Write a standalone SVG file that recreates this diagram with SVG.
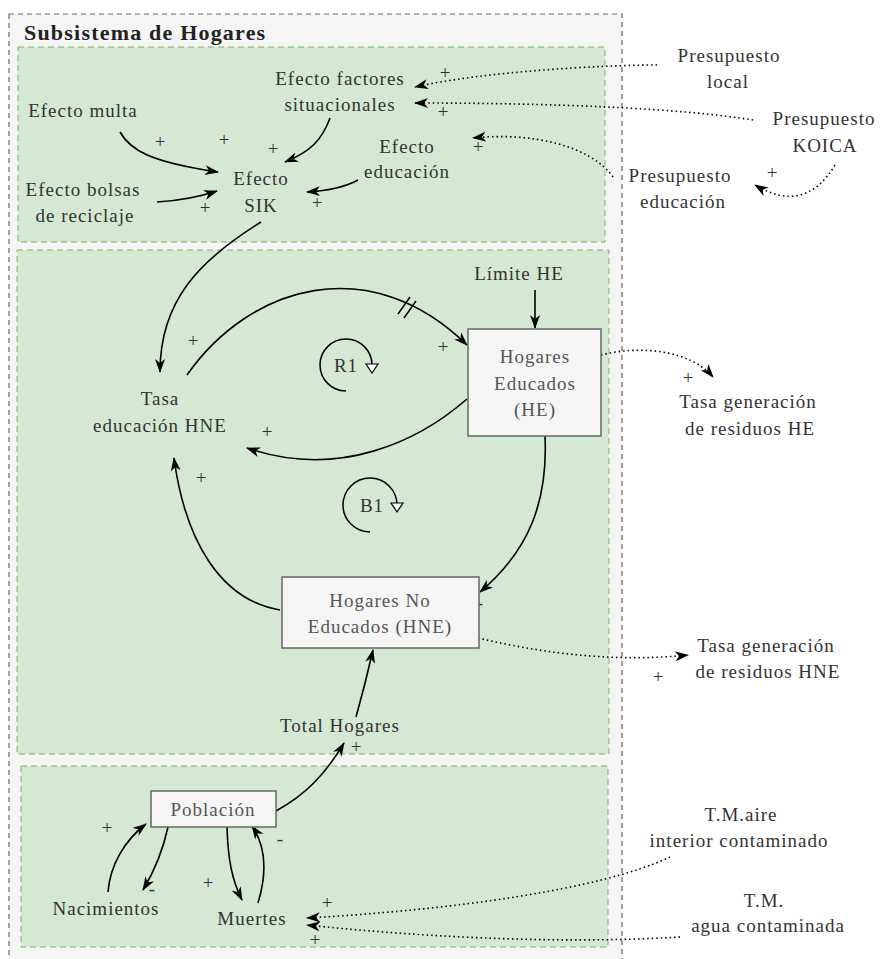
<svg xmlns="http://www.w3.org/2000/svg" width="881" height="959" viewBox="0 0 881 959">
<style>
.t{font-family:"Liberation Serif","DejaVu Serif",serif;font-size:19px;fill:#333;text-anchor:middle;letter-spacing:1px}
.bt{fill:#555}
.title{font-family:"Liberation Serif","DejaVu Serif",serif;font-size:22px;font-weight:bold;fill:#222;letter-spacing:1.2px}
.pm{font-family:"Liberation Serif","DejaVu Serif",serif;font-size:19px;fill:#333;text-anchor:middle}
.c{fill:none;stroke:#000;stroke-width:1.6;marker-end:url(#a)}
.d{fill:none;stroke:#000;stroke-width:1.6;stroke-dasharray:1.5 3;marker-end:url(#a)}
.panel{fill:#d5e8d4;stroke:#82b366;stroke-width:1;stroke-dasharray:6 4}
.box{fill:#f5f5f5;stroke:#666;stroke-width:1.5}
.loop{fill:none;stroke:#000;stroke-width:1.5}
</style>
<defs>
<marker id="a" viewBox="0 0 14 10" refX="13" refY="5" markerWidth="14" markerHeight="10" markerUnits="userSpaceOnUse" orient="auto">
<path d="M0,0 L14,5 L0,10 L4,5 Z" fill="#000"/>
</marker>
</defs>
<rect x="0" y="0" width="881" height="959" fill="#fff"/>
<g id="container">
<rect x="9" y="14" width="613" height="960" fill="#f5f5f5" stroke="#666" stroke-width="1.2" stroke-dasharray="5 4"/>
<text class="title" x="24" y="40" font-family="Liberation Serif, DejaVu Serif, serif">Subsistema de Hogares</text>
<rect class="panel" x="18" y="47" width="587" height="195"/>
<rect class="panel" x="17" y="250" width="592" height="504"/>
<rect class="panel" x="21" y="766" width="587" height="181"/>
</g>
<g id="connectors">
<path class="c" d="M120,132 C130,150 150,162 218,172"/>
<path class="c" d="M157,202 Q190,200 217,191"/>
<path class="c" d="M330,118 C322,140 310,152 285,162"/>
<path class="c" d="M358,180 Q340,190 307,192"/>
<path class="d" d="M657,65 C600,65 480,72 415,87"/>
<path class="d" d="M753,120 C680,108 550,103 415,103"/>
<path class="d" d="M613,177 C590,145 530,132 473,138"/>
<path class="d" d="M835,165 Q805,215 755,185"/>
<path class="c" d="M261,222 C200,260 160,300 160,372"/>
<path class="c" d="M187,375 C250,285 370,250 467,345"/>
<path d="M398,314 L410,297 M404,318 L416,301" stroke="#000" stroke-width="1.5" fill="none"/>
<path class="c" d="M535,290 L535,328"/>
<path class="c" d="M467,399 C420,440 340,480 247,448"/>
<path class="d" d="M601,355 C640,345 690,350 713,377"/>
<path class="c" d="M545,436 C548,500 530,550 480,592"/>
<path class="c" d="M280,610 C220,600 185,540 174,458"/>
<path class="d" d="M478,638 C550,655 620,662 688,655"/>
<path class="c" d="M356,717 Q365,685 373,650"/>
<path class="c" d="M276,811 C305,795 325,775 344,743"/>
<path class="c" d="M108,892 C110,865 125,840 146,824"/>
<path class="c" d="M168,827 C163,850 155,870 143,890"/>
<path class="c" d="M227,827 C228,860 232,880 242,900"/>
<path class="c" d="M258,903 C268,870 265,845 252,826"/>
<path class="d" d="M670,857 C600,890 450,910 307,918"/>
<path class="d" d="M680,937 C550,945 400,935 307,925"/>
<g id="polarities">
<text class="pm" x="160" y="148">+</text>
<text class="pm" x="224" y="146">+</text>
<text class="pm" x="273" y="155">+</text>
<text class="pm" x="205" y="214">+</text>
<text class="pm" x="317" y="209">+</text>
<text class="pm" x="445" y="79">+</text>
<text class="pm" x="443" y="118">+</text>
<text class="pm" x="478" y="153">+</text>
<text class="pm" x="772" y="179">+</text>
<text class="pm" x="193" y="347">+</text>
<text class="pm" x="443" y="353">+</text>
<text class="pm" x="267" y="438">+</text>
<text class="pm" x="201" y="484">+</text>
<text class="pm" x="688" y="384">+</text>
<text class="pm" x="480" y="609">-</text>
<text class="pm" x="658" y="683">+</text>
<text class="pm" x="356" y="753">+</text>
<text class="pm" x="107" y="834">+</text>
<text class="pm" x="152" y="895">-</text>
<text class="pm" x="208" y="889">+</text>
<text class="pm" x="280" y="845">-</text>
<text class="pm" x="327" y="909">+</text>
<text class="pm" x="315" y="946">+</text>
</g>
</g>
<g id="loop-R1">
<path class="loop" d="M346,391 A26,26 0 1 1 372,365"/>
<path d="M366,364 L378,364 L372,373 Z" fill="#fff" stroke="#000" stroke-width="1.2"/>
<text class="t" x="346" y="372">R1</text>
</g>
<g id="loop-B1">
<path class="loop" d="M370,532 A27,27 0 1 1 397,505"/>
<path d="M391,503 L403,503 L397,512 Z" fill="#fff" stroke="#000" stroke-width="1.2"/>
<text class="t" x="372" y="512">B1</text>
</g>
<g id="efecto-factores"><text class="t" x="340" y="85">Efecto factores</text><text class="t" x="340" y="111">situacionales</text></g>
<g id="efecto-multa"><text class="t" x="83" y="117">Efecto multa</text></g>
<g id="efecto-bolsas"><text class="t" x="83" y="196">Efecto bolsas</text><text class="t" x="85" y="222">de reciclaje</text></g>
<g id="efecto-sik"><text class="t" x="261" y="185">Efecto</text><text class="t" x="261" y="212">SIK</text></g>
<g id="efecto-educacion"><text class="t" x="407" y="153">Efecto</text><text class="t" x="407" y="178">educación</text></g>
<g id="presupuesto-local"><text class="t" x="729" y="62">Presupuesto</text><text class="t" x="728" y="88">local</text></g>
<g id="presupuesto-koica"><text class="t" x="824" y="125">Presupuesto</text><text class="t" x="825" y="152">KOICA</text></g>
<g id="presupuesto-educacion"><text class="t" x="680" y="182">Presupuesto</text><text class="t" x="683" y="208">educación</text></g>
<g id="tasa-educacion"><text class="t" x="160" y="405">Tasa</text><text class="t" x="160" y="432">educación HNE</text></g>
<g id="limite-he"><text class="t" x="519" y="280">Límite HE</text></g>
<g id="hogares-educados"><rect class="box" x="468" y="329" width="133" height="107"/><text class="t bt" x="535" y="363">Hogares</text><text class="t bt" x="535" y="390">Educados</text><text class="t bt" x="535" y="416">(HE)</text></g>
<g id="tasa-residuos-he"><text class="t" x="748" y="408">Tasa generación</text><text class="t" x="750" y="435">de residuos HE</text></g>
<g id="hogares-no-educados"><rect class="box" x="282" y="577" width="197" height="71"/><text class="t bt" x="380" y="607">Hogares No</text><text class="t bt" x="380" y="633">Educados (HNE)</text></g>
<g id="tasa-residuos-hne"><text class="t" x="766" y="652">Tasa generación</text><text class="t" x="768" y="678">de residuos HNE</text></g>
<g id="total-hogares"><text class="t" x="340" y="732">Total Hogares</text></g>
<g id="poblacion"><rect class="box" x="151" y="791" width="125" height="36"/><text class="t bt" x="213" y="816">Población</text></g>
<g id="nacimientos"><text class="t" x="106" y="915">Nacimientos</text></g>
<g id="muertes"><text class="t" x="252" y="925">Muertes</text></g>
<g id="tm-aire"><text class="t" x="741" y="821">T.M.aire</text><text class="t" x="739" y="847">interior contaminado</text></g>
<g id="tm-agua"><text class="t" x="764" y="907">T.M.</text><text class="t" x="768" y="932">agua contaminada</text></g>
</svg>
